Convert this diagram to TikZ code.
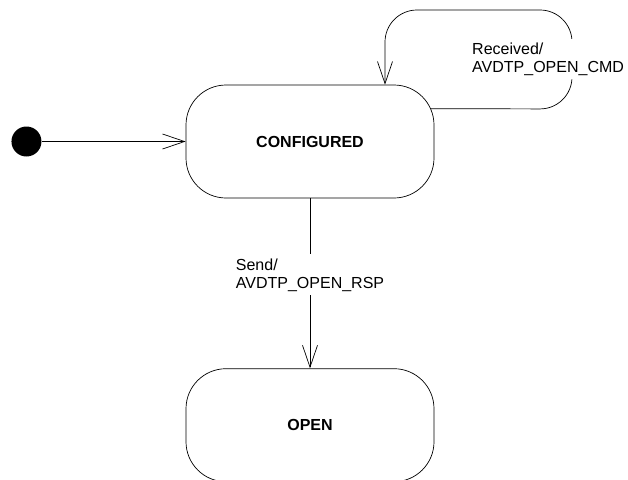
\documentclass[tikz,border=0pt]{standalone}
\usepackage{fontspec}
\setmainfont{Liberation Sans}
\usetikzlibrary{arrows.meta,positioning,calc}
\tikzset{
  state/.style={draw,rounded corners=40pt,minimum width=248pt,minimum height=113pt,
    fill=white,line width=0.7pt,font=\fontsize{16}{18}\selectfont\bfseries},
  startdot/.style={circle,fill=black,minimum size=30pt,inner sep=0pt},
  trans/.style={-{Straight Barb[length=22pt,width=15pt]},line width=0.7pt},
  lbl/.style={fill=white,align=left,inner sep=4pt,font=\fontsize{16}{18}\selectfont},
}

\begin{document}
\begin{tikzpicture}[x=1pt,y=-1pt,node distance=170pt and 144pt]
  \useasboundingbox (0,0) rectangle (628,479);
  % states
  \node[state] (conf) at (310,141.5) {CONFIGURED};
  \node[state,below=of conf] (open) {OPEN};
  \node[startdot,left=of conf] (init) {};

  % transitions
  \draw[trans] (init) -- (conf);
  \draw[trans] (conf) -- node[lbl,pos=0.45] (sendlbl) {Send/\\AVDTP\_OPEN\_RSP} (open);
  \draw[trans,rounded corners=32pt] ($(conf.north east)+(-4,24)$) -- (572,109)
    -- (572,10) -- (385,10) -- ($(conf.north)+(75,0)$);
  \node[lbl,anchor=west] (rcvlbl) at (468,59) {Received/\\AVDTP\_OPEN\_CMD};
\end{tikzpicture}
\end{document}
